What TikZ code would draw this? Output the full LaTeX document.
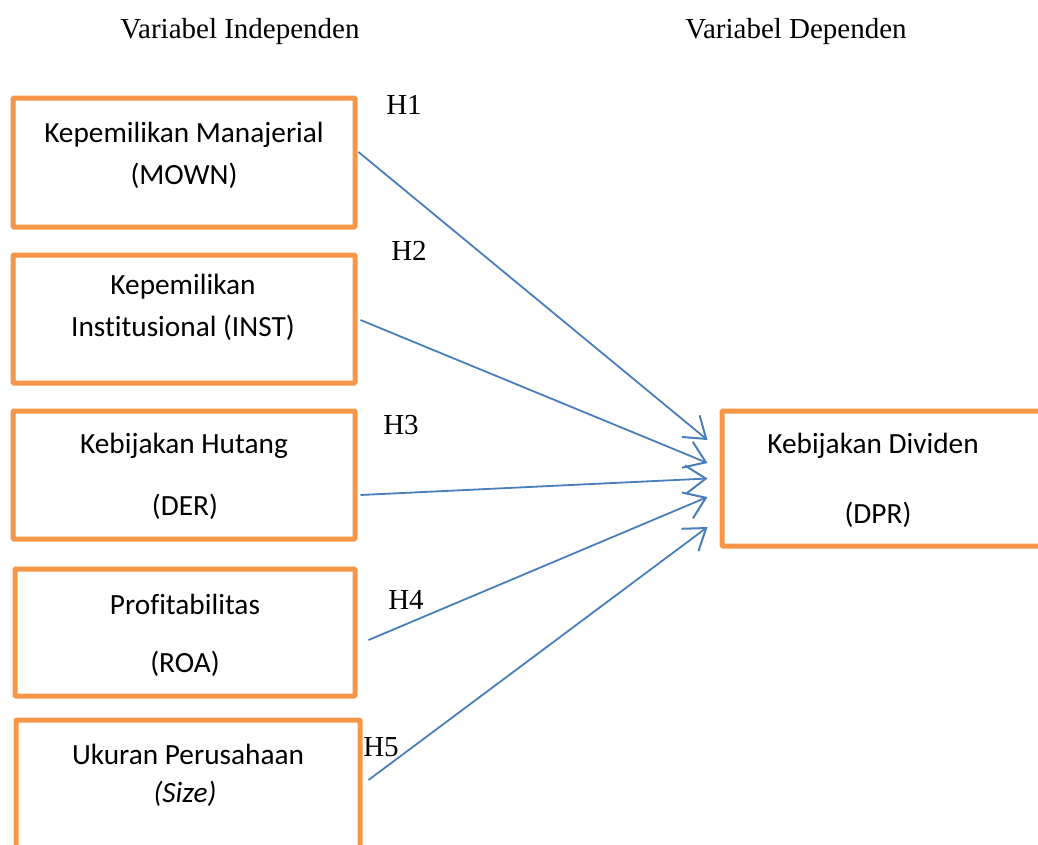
\documentclass[tikz,border=0pt]{standalone}
\usepackage{fontspec}
\setmainfont{Liberation Serif}
\newfontfamily\carlitofont[Ligatures=NoCommon]{Carlito}
\usetikzlibrary{arrows.meta}
\definecolor{boxorange}{HTML}{F79646}
\definecolor{arrblue}{HTML}{4A7EBB}
\tikzset{
  varbox/.style={draw=boxorange, line width=5pt, rounded corners=1pt, inner sep=0pt, fill=white},
  boxtext/.style={font=\carlitofont\fontsize{29.3}{34}\selectfont, inner sep=0pt, anchor=center},
  headtext/.style={font=\fontsize{29}{34}\selectfont, inner sep=0pt, anchor=center},
  hyp/.style={font=\fontsize{29}{34}\selectfont, inner sep=0pt, anchor=center},
  link/.style={draw=arrblue, line width=1.8pt, -{Straight Barb[length=20pt,width=28pt,line width=2pt]}}
}
\begin{document}
\begin{tikzpicture}[x=1pt,y=-1pt]
\useasboundingbox (0,0) rectangle (1038,844);
\clip (0,0) rectangle (1038,844);
% headings
\node[headtext] (hi) at (240,32) {Variabel Independen};
\node[headtext] (hd) at (796,32) {Variabel Dependen};
% boxes
\node[varbox, minimum width=342pt, minimum height=129pt] (b1) at (184,162.5) {};
\node[varbox, minimum width=342pt, minimum height=128pt] (b2) at (184,319) {};
\node[varbox, minimum width=342pt, minimum height=128pt] (b3) at (184,475) {};
\node[varbox, minimum width=340pt, minimum height=127pt] (b4) at (185,632.5) {};
\node[varbox, minimum width=344pt, minimum height=140pt] (b5) at (188,790) {};
\node[varbox, minimum width=330pt, minimum height=135pt] (dpr) at (887,478.5) {};
% box texts
\node[boxtext] (t1a) at (184,135) {Kepemilikan Manajerial};
\node[boxtext] (t1b) at (184,176) {(MOWN)};
\node[boxtext] (t2a) at (183,287) {Kepemilikan};
\node[boxtext] (t2b) at (183,328) {Institusional (INST)};
\node[boxtext] (t3a) at (184,446) {Kebijakan Hutang};
\node[boxtext] (t3b) at (185,507) {(DER)};
\node[boxtext] (t4a) at (185,604) {Profitabilitas};
\node[boxtext] (t4b) at (185,664) {(ROA)};
\node[boxtext] (t5a) at (188,754) {Ukuran Perusahaan};
\node[boxtext] (t5b) at (185,794) {\itshape (Size)};
\node[boxtext] (td1) at (873,446) {Kebijakan Dividen};
\node[boxtext] (td2) at (878,515) {(DPR)};
% hypothesis labels
\node[hyp] (h1) at (404,105) {H1};
\node[hyp] (h2) at (409,251) {H2};
\node[hyp] (h3) at (401,425) {H3};
\node[hyp] (h4) at (406,600) {H4};
\node[hyp] (h5) at (381,747) {H5};
% connectors
\draw[link] ([xshift=1pt,yshift=10.5pt]b1.east) -- ([xshift=-12pt,yshift=38.5pt]dpr.west);
\draw[link] ([xshift=3pt,yshift=-1pt]b2.east) -- ([xshift=-12pt,yshift=15.5pt]dpr.west);
\draw[link] ([xshift=3pt,yshift=-20pt]b3.east) -- ([xshift=-12pt,yshift=0pt]dpr.west);
\draw[link] ([xshift=11pt,yshift=-7.5pt]b4.east) -- ([xshift=-12pt,yshift=-18.5pt]dpr.west);
\draw[link] ([xshift=6pt,yshift=10pt]b5.east) -- ([xshift=-12pt,yshift=-48.5pt]dpr.west);
\end{tikzpicture}
\end{document}
